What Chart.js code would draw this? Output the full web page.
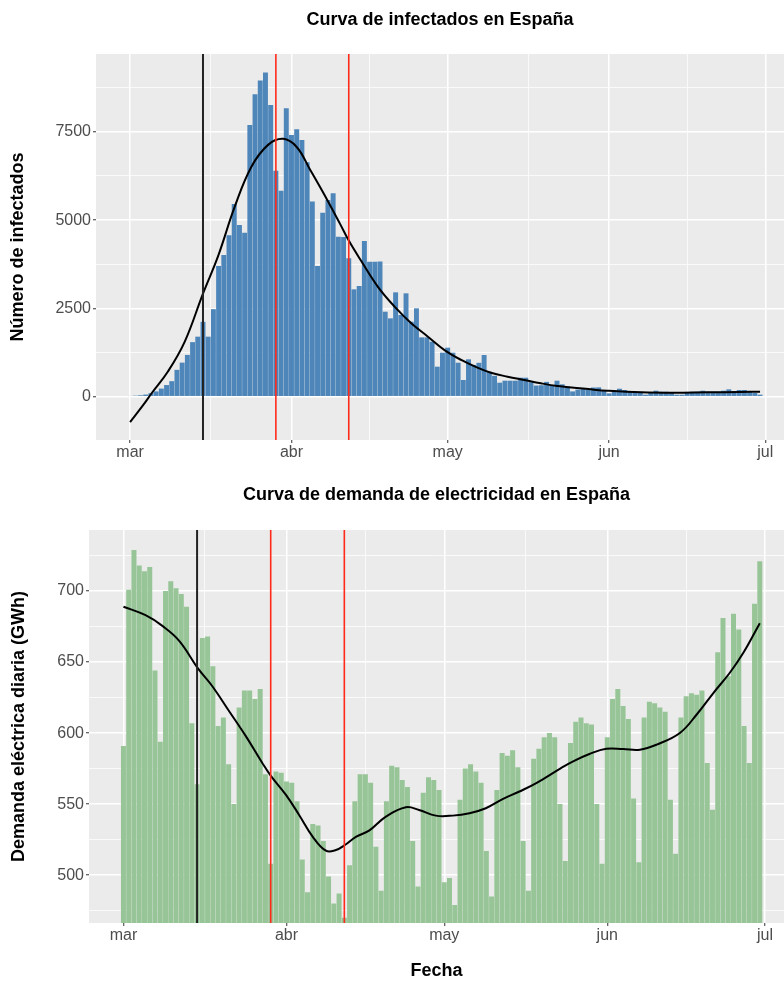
<!DOCTYPE html>
<html>
<head>
<meta charset="utf-8">
<script src="https://cdn.jsdelivr.net/npm/chart.js@4.4.1/dist/chart.umd.min.js"></script>
<style>
  body { margin: 0; background: #fff; }
  canvas { position: absolute; left: 0; }
  #top { top: 0; }
  #bottom { top: 470px; }
</style>
</head>
<body>
<canvas id="top" width="784" height="470"></canvas>
<canvas id="bottom" width="784" height="513"></canvas>
<script>
// days counted from 1 March 2020
const monthTicks = [0, 31, 61, 92, 122];
const monthLabels = ["mar", "abr", "may", "jun", "jul"];
const monthMinor = [15.5, 46, 76.5, 107];
const eventDays = [14, 28, 42];

// daily new infections, 1 Mar .. 30 Jun
const infected = [
  20, 30, 40, 60, 100, 150, 230, 330, 440, 760,
  965, 1183, 1545, 1700, 2120, 1700, 2478, 3700, 4010, 4570,
  5456, 4860, 4645, 7690, 8565, 8950, 9180, 8260, 6400, 5828,
  8165, 7410, 7575, 7266, 6640, 5530, 3700, 5210, 5570, 5760,
  4530, 4520, 3920, 3040, 3135, 4410, 3823, 3823, 3830, 2407,
  2218, 2955, 2313, 2927, 2124, 2502, 1680, 1680, 1557, 850,
  1246, 1388, 1246, 963, 473, 1058, 900, 960, 1180, 708,
  590, 396, 453, 453, 453, 538, 538, 410, 315, 325,
  420, 330, 453, 350, 295, 150, 200, 236, 208, 260,
  264, 170, 95, 170, 226, 189, 160, 140, 140, 57,
  104, 170, 140, 140, 104, 57, 57, 113, 140, 140,
  170, 140, 140, 140, 170, 208, 160, 189, 189, 140,
  104, 57
];
const infSmoothDays = [0, 2.5, 4.1, 7.3, 10.5, 14, 16.9, 20.1, 23.3, 26.5, 29.4, 32, 34.6, 37, 40.3,
  42, 44.4, 47.6, 50.8, 54, 57.2, 60.4, 63.6, 66.6, 69.3, 72.5, 75.7, 78.9, 82.1, 85.3,
  88.5, 91.7, 98.1, 104.5, 110.9, 117.3, 121];
const infSmooth = [-720, -240, 90, 720, 1560, 2920, 3980, 5380, 6510, 7130, 7300, 7070, 6420, 5800, 4900,
  4420, 3840, 3110, 2550, 2080, 1700, 1320, 1040, 830, 680, 566, 473, 380, 303, 255,
  208, 170, 125, 113, 125, 133, 142];
const infYMajor = [0, 2500, 5000, 7500];
const infYMinor = [1250, 3750, 6250, 8750];

// daily electricity demand (GWh), 1 Mar .. 30 Jun
const demand = [
  591, 701, 729, 718, 714, 717, 644, 594, 700, 707,
  702, 698, 689, 607, 564, 667, 668, 647, 605, 611,
  578, 550, 618, 630, 630, 624, 631, 571, 508, 573,
  572, 566, 565, 552, 511, 488, 536, 535, 524, 499,
  480, 487, 470, 507, 552, 571, 571, 565, 520, 489,
  552, 577, 576, 567, 562, 524, 492, 558, 569, 567,
  560, 495, 498, 479, 553, 575, 578, 573, 565, 517,
  485, 560, 586, 584, 588, 576, 524, 489, 582, 589,
  597, 600, 597, 550, 510, 593, 608, 611, 607, 606,
  550, 508, 597, 624, 631, 619, 610, 554, 509, 611,
  622, 621, 618, 615, 553, 515, 611, 626, 628, 627,
  630, 579, 546, 657, 681, 640, 684, 673, 605, 579,
  691, 721
];
const demSmoothDays = [0, 4.2, 7.4, 10.6, 14.2, 16.9, 20.1, 23.3, 26.4, 28.1, 30.9, 33.4, 36, 38.5, 40.4,
  42.1, 44.2, 46.7, 49.9, 53.7, 56.2, 59.4, 62.6, 65.8, 68.9, 72.1, 75.3, 78.5, 83.2, 85.5,
  88.6, 91.8, 95, 98.2, 101.4, 105.8, 109, 112.2, 115.3, 117.9, 121];
const demSmooth = [689, 683, 675.5, 665, 645.4, 633, 615.4, 597.7, 579, 569.5, 556.5, 542.4, 527, 517.2, 517.7,
  521.2, 527, 531.3, 541.2, 547.8, 545.9, 541.9, 541.9, 543.6, 547.1, 553.5, 558.9, 564.8, 575.4, 580.1,
  585.3, 589, 588.8, 588.3, 591.9, 600.1, 613.1, 628.4, 642.5, 656.7, 677.4];
const demYMajor = [500, 550, 600, 650, 700];
const demYMinor = [475, 525, 575, 625, 675, 725];

Chart.defaults.font.family = '"Liberation Sans", Arial, Helvetica, sans-serif';

const X_MIN = -6.55, X_MAX = 125.6;
const EVENT_STYLE = [
  { color: "#222222", width: 2 },
  { color: "#FF2A1A", width: 1.6 },
  { color: "#FF2A1A", width: 1.6 }
];

const panel = {
  id: "panel",
  beforeDraw(chart) {
    const { ctx, chartArea: a } = chart;
    ctx.save();
    ctx.fillStyle = "#EBEBEB";
    ctx.fillRect(a.left, a.top, a.right - a.left, a.bottom - a.top);
    ctx.restore();
  }
};

const eventLines = {
  id: "eventLines",
  afterDatasetsDraw(chart) {
    const { ctx, chartArea: a, scales } = chart;
    ctx.save();
    eventDays.forEach((d, k) => {
      const px = scales.x.getPixelForValue(d);
      ctx.beginPath();
      ctx.strokeStyle = EVENT_STYLE[k].color;
      ctx.lineWidth = EVENT_STYLE[k].width;
      ctx.moveTo(px, a.top);
      ctx.lineTo(px, a.bottom);
      ctx.stroke();
    });
    ctx.restore();
  }
};

const zip = (xs, ys) => xs.map((x, i) => ({ x: x, y: ys[i] }));

function makeChart(id, o) {
  const isMajorX = c => c.tick && monthTicks.includes(c.tick.value);
  const isMajorY = c => c.tick && o.yMajor.includes(c.tick.value);
  return new Chart(document.getElementById(id), {
    type: "bar",
    data: {
      datasets: [
        {
          type: "line",
          data: o.smooth,
          borderColor: "#000000",
          borderWidth: 2,
          pointRadius: 0,
          tension: 0.4,
          order: 0
        },
        {
          data: o.values.map((v, i) => ({ x: i, y: v })),
          backgroundColor: o.fill,
          barPercentage: 0.95,
          categoryPercentage: 1,
          order: 1
        }
      ]
    },
    options: {
      responsive: false,
      animation: false,
      events: [],
      layout: { padding: 0 },
      plugins: {
        legend: { display: false },
        tooltip: { enabled: false },
        title: {
          display: true,
          text: o.title,
          fullSize: false,
          color: "#000000",
          font: { size: 18, weight: "bold" },
          padding: o.titlePad
        }
      },
      scales: {
        x: {
          type: "linear",
          min: X_MIN,
          max: X_MAX,
          offset: false,
          bounds: "data",
          afterBuildTicks: s => {
            s.ticks = monthTicks.concat(monthMinor).sort((a, b) => a - b).map(v => ({ value: v }));
          },
          ticks: {
            autoSkip: false,
            maxRotation: 0,
            padding: 0,
            color: "#4D4D4D",
            font: { size: 16 },
            callback: v => monthTicks.includes(v) ? monthLabels[monthTicks.indexOf(v)] : ""
          },
          grid: {
            offset: false,
            color: "#FFFFFF",
            lineWidth: c => isMajorX(c) ? 1.5 : 0.75,
            tickLength: 3,
            tickWidth: 1,
            tickColor: c => isMajorX(c) ? "#333333" : "rgba(0,0,0,0)"
          },
          border: { display: false },
          title: o.xTitle ? {
            display: true,
            text: o.xTitle,
            color: "#000000",
            font: { size: 18, weight: "bold" },
            padding: { top: 0, bottom: 1 }
          } : { display: false },
          afterFit: s => { s.height = o.xHeight; }
        },
        y: {
          type: "linear",
          min: o.yMin,
          max: o.yMax,
          bounds: "data",
          afterBuildTicks: s => {
            s.ticks = o.yMajor.concat(o.yMinor).sort((a, b) => a - b).map(v => ({ value: v }));
          },
          ticks: {
            padding: 2,
            color: "#4D4D4D",
            font: { size: 16 },
            callback: v => o.yMajor.includes(v) ? String(v) : ""
          },
          grid: {
            color: "#FFFFFF",
            lineWidth: c => isMajorY(c) ? 1.5 : 0.75,
            tickLength: 3,
            tickWidth: 1,
            tickColor: c => isMajorY(c) ? "#333333" : "rgba(0,0,0,0)"
          },
          border: { display: false },
          title: {
            display: true,
            text: o.yTitle,
            color: "#000000",
            font: { size: 18, weight: "bold" },
            padding: { top: o.yTitlePad, bottom: 0 }
          },
          afterFit: s => { s.width = o.yWidth; }
        }
      }
    },
    plugins: [panel, eventLines]
  });
}

makeChart("top", {
  title: "Curva de infectados en España",
  titlePad: { top: 9.7, bottom: 22.7 },
  values: infected,
  smooth: zip(infSmoothDays, infSmooth),
  fill: "#4E86BA",
  yMin: -1226, yMax: 9703,
  yMajor: infYMajor, yMinor: infYMinor,
  yTitle: "Número de infectados",
  yTitlePad: 7.2,
  yWidth: 96,
  xHeight: 30,
  xTitle: null
});

makeChart("bottom", {
  title: "Curva de demanda de electricidad en España",
  titlePad: { top: 14.7, bottom: 23.7 },
  values: demand,
  smooth: zip(demSmoothDays, demSmooth),
  fill: "#97C597",
  yMin: 466.3, yMax: 743,
  yMajor: demYMajor, yMinor: demYMinor,
  yTitle: "Demanda eléctrica diaria (GWh)",
  yTitlePad: 8.2,
  yWidth: 89,
  xHeight: 60,
  xTitle: "Fecha"
});
</script>
</body>
</html>
